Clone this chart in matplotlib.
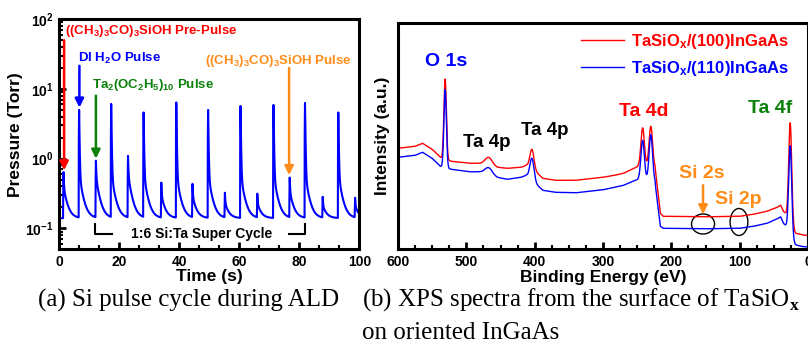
import numpy as np
import matplotlib
matplotlib.use("Agg")
import matplotlib.pyplot as plt
from matplotlib.patches import Ellipse
from matplotlib.ticker import MultipleLocator, AutoMinorLocator, LogLocator, NullFormatter

plt.rcParams['font.family'] = ['Liberation Sans', 'DejaVu Sans']
plt.rcParams['font.weight'] = 'bold'
plt.rcParams['axes.labelweight'] = 'bold'
plt.rcParams['mathtext.fontset'] = 'custom'
plt.rcParams['mathtext.rm'] = 'Liberation Sans:bold'
plt.rcParams['mathtext.it'] = 'Liberation Sans:bold:italic'
plt.rcParams['mathtext.bf'] = 'Liberation Sans:bold'
plt.rcParams['mathtext.sf'] = 'Liberation Serif'
plt.rcParams['mathtext.default'] = 'rm'

# ---- (a) pressure trace during ALD ----
pulse_time = [1.4, 6.6, 12.2, 17.3, 22.9, 28.1, 34.0, 39.0, 44.4, 49.6,
              55.2, 60.4, 66.0, 71.4, 76.8, 81.9, 87.8, 93.0, 98.6]
pulse_peak = [0.64, 5.0, 0.93, 6.1, 1.09, 4.6, 0.45, 6.4, 0.43, 5.0,
              0.32, 5.7, 0.31, 5.9, 0.53, 6.3, 0.28, 4.6, 0.27]
base_pressure = 0.14

# ---- (b) XPS survey spectra ----
bg_energy = [600, 575, 564, 550, 538, 522, 495, 480, 472, 455, 440, 420, 412,
             396, 388, 370, 340, 300, 283, 270, 255, 248, 236, 224, 220, 216,
             212, 150, 100, 80, 60, 45, 40, 36, 33, 30, 22, 18, 10, 5, 0]
bg_100 = [101, 103, 106, 100, 92, 88, 86, 86, 86, 82, 81, 82, 84,
          76, 71, 69, 69, 72, 74, 76, 81, 83, 84, 82, 60, 36,
          33, 32.5, 33, 35, 38, 42, 44, 38, 36, 33, 20, 16, 15, 14, 14]
bg_110 = [92, 94, 97, 91, 83, 80, 77.5, 77.5, 77, 72, 70, 72, 74,
          64, 59, 57, 56.5, 59.5, 62, 64, 68.5, 70, 70, 67, 45, 23,
          21, 20.5, 21, 23, 26, 30.5, 32.5, 26, 24, 21, 8, 4.5, 3, 2.5, 2.5]
peak_energy = [531, 467, 404, 242, 230, 26]
peak_width = [1.8, 5, 3, 2.5, 2.5, 2.2]
peak_100 = [80, 7, 20, 38, 40, 100]
peak_110 = [78, 6, 22, 39, 46, 89]

# pressure trace built from the pulse list
t = np.linspace(0, 100, 8001)
p = np.full_like(t, base_pressure)
for t0, pk in zip(pulse_time, pulse_peak):
    amp = pk - base_pressure
    tail = min(0.45, 0.5 * amp)
    dt = t - t0
    rise = (dt > -0.15) & (dt <= 0)
    p[rise] += amp * (dt[rise] + 0.15) / 0.15
    after = dt > 0
    p[after] += (amp - tail) * np.exp(-dt[after] / 0.13) + tail * np.exp(-dt[after] / 1.2)

# XPS spectra
E = np.linspace(600, 0, 3001)
I100 = np.interp(E, bg_energy[::-1], bg_100[::-1])
I110 = np.interp(E, bg_energy[::-1], bg_110[::-1])
for e0, w, a1, a2 in zip(peak_energy, peak_width, peak_100, peak_110):
    g = np.exp(-0.5 * ((E - e0) / w) ** 2)
    I100 += a1 * g
    I110 += a2 * g

red, blue, green, orange = '#ff0000', '#0000ff', '#0a800a', '#ff8c19'

fig = plt.figure(figsize=(8.08, 3.46), dpi=100)
ax1 = fig.add_axes([59.3 / 808, 1 - 249.3 / 346, 300 / 808, 230 / 346])
ax2 = fig.add_axes([398 / 808, 1 - 249.3 / 346, 410 / 808, 226 / 346])

for ax in (ax1, ax2):
    for s in ax.spines.values():
        s.set_linewidth(2.2)
    ax.tick_params(direction='in', which='major', length=5, width=2, labelsize=10, pad=4)
    ax.tick_params(direction='in', which='minor', length=3, width=1.5)

# ---- panel (a) ----
ax1.plot(t, p, color=blue, lw=1.5)
ax1.set_yscale('log')
ax1.set_xlim(0, 100)
ax1.set_ylim(0.05, 100)
ax1.xaxis.set_major_locator(MultipleLocator(20))
ax1.xaxis.set_minor_locator(AutoMinorLocator(3))
ax1.yaxis.set_major_locator(LogLocator(base=10, numticks=10))
ax1.yaxis.set_minor_locator(LogLocator(base=10, subs=np.arange(2, 10), numticks=10))
ax1.yaxis.set_minor_formatter(NullFormatter())
ax1.set_xlabel('Time (s)', fontsize=12.5, labelpad=0)
ax1.set_ylabel('Pressure (Torr)', fontsize=12.5, labelpad=2)

arrow = dict(arrowstyle='-|>', lw=1.8, mutation_scale=13, shrinkA=0, shrinkB=0)
ax1.text(1.9, 69, '((CH$_3$)$_3$CO)$_3$SiOH Pre-Pulse', color=red, fontsize=9.5, va='center')
ax1.annotate('', xy=(1.6, 0.68), xytext=(1.6, 50), arrowprops=dict(arrow, color=red))
ax1.text(6.3, 27, 'DI H$_2$O Pulse', color=blue, fontsize=9.5, va='center')
ax1.annotate('', xy=(6.7, 5.4), xytext=(6.7, 21.5), arrowprops=dict(arrow, color=blue))
ax1.text(10.8, 11.5, 'Ta$_2$(OC$_2$H$_5$)$_{10}$ Pulse', color=green, fontsize=9.5, va='center')
ax1.annotate('', xy=(12.2, 1.0), xytext=(12.2, 8.0), arrowprops=dict(arrow, color=green))
ax1.text(48.7, 25.6, '((CH$_3$)$_3$CO)$_3$SiOH Pulse', color=orange, fontsize=9.5, va='center')
ax1.annotate('', xy=(76.6, 0.58), xytext=(76.6, 20), arrowprops=dict(arrow, color=orange))

ax1.text(47.5, 0.0836, '1:6 Si:Ta Super Cycle', color='black', fontsize=10, ha='center', va='center')
ax1.plot([11.9, 11.9, 17.5], [0.116, 0.0836, 0.0836], color='black', lw=1.5)
ax1.plot([76.6, 81.8, 81.8], [0.0836, 0.0836, 0.116], color='black', lw=1.5)

# ---- panel (b) ----
ax2.plot(E, I100, color=red, lw=1.0, label='TaSiO$_x$/(100)InGaAs')
ax2.plot(E, I110, color=blue, lw=1.0, label='TaSiO$_x$/(110)InGaAs')
ax2.set_xlim(600, 0)
ax2.set_ylim(0, 226)
ax2.set_yticks([])
ax2.xaxis.set_major_locator(MultipleLocator(100))
ax2.xaxis.set_minor_locator(MultipleLocator(25))
ax2.set_xlabel('Binding Energy (eV)', fontsize=12.5, labelpad=1)
ax2.set_ylabel('Intensity (a.u.)', fontsize=12.5, labelpad=6)

leg = ax2.legend(loc='upper right', bbox_to_anchor=(0.97, 0.99), frameon=False,
                 fontsize=12, handlelength=2.6, handletextpad=0.4, labelspacing=0.45,
                 labelcolor='linecolor', borderaxespad=0)

ax2.text(529.8, 188, 'O 1s', color=blue, fontsize=14, ha='center', va='center')
ax2.text(469.8, 107, 'Ta 4p', color='black', fontsize=13.5, ha='center', va='center')
ax2.text(385, 119, 'Ta 4p', color='black', fontsize=13.5, ha='center', va='center')
ax2.text(240, 138, 'Ta 4d', color=red, fontsize=14, ha='center', va='center')
ax2.text(55.6, 141, 'Ta 4f', color=green, fontsize=14, ha='center', va='center')
ax2.text(155, 76, 'Si 2s', color=orange, fontsize=14, ha='center', va='center')
ax2.text(102, 50, 'Si 2p', color=orange, fontsize=14, ha='center', va='center')
ax2.annotate('', xy=(153.6, 35), xytext=(153.6, 64), arrowprops=dict(arrow, color=orange))
ax2.add_patch(Ellipse((153.6, 25.3), 33.7, 20, fill=False, edgecolor='black', lw=1.0))
ax2.add_patch(Ellipse((101, 27.3), 26, 27, fill=False, edgecolor='black', lw=1.0))

# captions
fig.text(189 / 808, 1 - 300 / 346, '(a) Si pulse cycle during ALD', family='Liberation Serif',
         weight='normal', fontsize=18, ha='center', va='center')
fig.text(362 / 808, 1 - 300 / 346, '(b) XPS spectra from the surface of TaSiO$_{\\mathsf{x}}$',
         family='Liberation Serif', weight='normal', fontsize=18, ha='left', va='center')
fig.text(362 / 808, 1 - 333 / 346, 'on oriented InGaAs', family='Liberation Serif',
         weight='normal', fontsize=18, ha='left', va='center')

fig.savefig('out.png', dpi=100)
